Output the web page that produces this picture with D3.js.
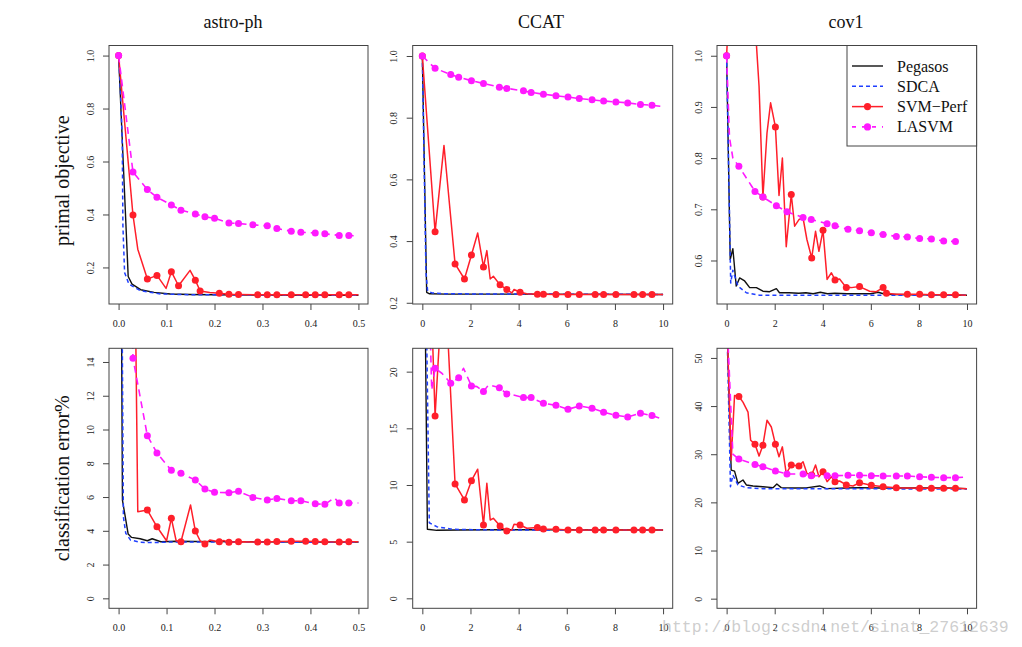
<!DOCTYPE html>
<html><head><meta charset="utf-8">
<script src="https://cdn.jsdelivr.net/npm/d3@7"></script>
<style>body{margin:0;background:#fff} svg{display:block}</style>
</head><body>
<script>
// ---------- labels ----------
const datasets = ["astro-ph", "CCAT", "cov1"];
const rowLabels = ["primal objective", "classification error%"];
const seriesNames = ["Pegasos", "SDCA", "SVM\u2212Perf", "LASVM"];
const watermark = "http://blog.csdn.net/sinat_27612639";

// ---------- ticks ----------
const xTicksAstro = [0, 0.1, 0.2, 0.3, 0.4, 0.5];
const xTicksLong = [0, 2, 4, 6, 8, 10];
const yTicksAstroObj = [0.2, 0.4, 0.6, 0.8, 1.0];
const yTicksCcatObj = [0.2, 0.4, 0.6, 0.8, 1.0];
const yTicksCovObj = [0.6, 0.7, 0.8, 0.9, 1.0];
const yTicksAstroErr = [0, 2, 4, 6, 8, 10, 12, 14];
const yTicksCcatErr = [0, 5, 10, 15, 20];
const yTicksCovErr = [0, 10, 20, 30, 40, 50];

// ---------- data: [x, y, marker(1/0)] ----------
// astro-ph, primal objective
const astroObjPegasos = [[0,1.0],[0.02,0.166],[0.028,0.137],[0.046,0.116],[0.074,0.106],[0.108,0.100],[0.15,0.098],[0.2,0.097],[0.3,0.096],[0.4,0.095],[0.5,0.095]];
const astroObjSdca = [[0,1.0],[0.004,0.86],[0.0076,0.683],[0.009,0.357],[0.0125,0.181],[0.0215,0.137],[0.046,0.112],[0.0875,0.100],[0.15,0.097],[0.3,0.096],[0.5,0.095]];
const astroObjPerf = [[0,1.0,1],[0.03,0.398,1],[0.04,0.269,0],[0.06,0.156,1],[0.08,0.170,1],[0.099,0.121,0],[0.11,0.184,1],[0.125,0.131,1],[0.149,0.189,0],[0.16,0.152,1],[0.17,0.111,1],[0.19,0.105,0],[0.21,0.103,1],[0.23,0.099,1],[0.25,0.098,1],[0.29,0.097,1],[0.31,0.097,1],[0.33,0.097,1],[0.36,0.097,1],[0.39,0.097,1],[0.41,0.097,1],[0.43,0.097,1],[0.46,0.097,1],[0.48,0.097,1],[0.5,0.097,0]];
const astroObjLasvm = [[0,1.0,1],[0.03,0.560,1],[0.06,0.494,1],[0.08,0.465,1],[0.11,0.436,1],[0.13,0.416,1],[0.16,0.402,1],[0.18,0.391,1],[0.20,0.386,1],[0.23,0.368,1],[0.25,0.366,1],[0.28,0.361,1],[0.31,0.357,1],[0.33,0.347,1],[0.36,0.337,1],[0.38,0.333,1],[0.41,0.330,1],[0.43,0.327,1],[0.46,0.321,1],[0.48,0.321,1],[0.5,0.318,0]];

// astro-ph, classification error
const astroErrPegasos = [[0,50],[0.008,5.82],[0.02,3.81],[0.027,3.61],[0.045,3.53],[0.06,3.41],[0.07,3.53],[0.088,3.35],[0.12,3.38],[0.2,3.36],[0.3,3.35],[0.4,3.34],[0.5,3.33]];
const astroErrSdca = [[0,50],[0.01,4.83],[0.015,3.85],[0.025,3.45],[0.046,3.32],[0.07,3.30],[0.1,3.33],[0.2,3.33],[0.3,3.33],[0.5,3.32]];
const astroErrPerf = [[0,50,1],[0.03,30,1],[0.04,5.13,0],[0.06,5.23,1],[0.08,4.24,1],[0.10,3.41,0],[0.11,4.74,1],[0.12,3.41,0],[0.13,3.35,1],[0.15,5.53,0],[0.16,3.99,1],[0.17,3.41,0],[0.18,3.22,1],[0.19,3.45,0],[0.21,3.35,1],[0.22,3.42,0],[0.23,3.32,1],[0.25,3.35,1],[0.29,3.33,1],[0.31,3.33,1],[0.33,3.36,1],[0.36,3.38,1],[0.39,3.38,1],[0.41,3.37,1],[0.43,3.35,1],[0.46,3.34,1],[0.48,3.35,1],[0.5,3.35,0]];
const astroErrLasvm = [[0,50,1],[0.03,14.22,1],[0.06,9.63,1],[0.08,8.61,1],[0.11,7.58,1],[0.13,7.41,1],[0.16,7.01,1],[0.18,6.48,1],[0.20,6.28,1],[0.23,6.26,1],[0.25,6.34,1],[0.28,5.98,1],[0.31,5.82,1],[0.33,5.92,1],[0.36,5.78,1],[0.38,5.78,1],[0.41,5.60,1],[0.43,5.57,1],[0.45,5.95,0],[0.46,5.65,1],[0.48,5.65,1],[0.5,5.65,0]];

// CCAT, primal objective
const ccatObjPegasos = [[0,1.0],[0.18,0.234],[0.3,0.229],[1,0.228],[3,0.228],[10,0.227]];
const ccatObjSdca = [[0,1.0],[0.15,0.30],[0.22,0.238],[0.4,0.232],[1,0.229],[10,0.227]];
const ccatObjPerf = [[0,1.0,1],[0.53,0.430,1],[0.90,0.710,0],[1.36,0.326,1],[1.75,0.277,1],[2.04,0.355,1],[2.30,0.426,0],[2.54,0.316,1],[2.68,0.369,0],[2.82,0.277,0],[2.95,0.286,0],[3.23,0.258,1],[3.51,0.243,1],[3.72,0.232,0],[3.81,0.243,0],[4.06,0.234,1],[4.34,0.229,0],[4.78,0.228,1],[5.03,0.228,1],[5.55,0.227,1],[6.05,0.227,1],[6.52,0.227,1],[7.18,0.227,1],[7.53,0.227,1],[8.04,0.227,1],[8.79,0.227,1],[9.15,0.227,1],[9.54,0.227,1],[10,0.227,0]];
const ccatObjLasvm = [[0,1.0,1],[0.53,0.960,1],[1.18,0.940,1],[1.51,0.931,1],[2.04,0.920,1],[2.54,0.911,1],[3.20,0.899,1],[3.51,0.895,1],[4.20,0.887,1],[4.52,0.882,1],[5.03,0.876,1],[5.55,0.871,1],[6.05,0.867,1],[6.52,0.862,1],[7.05,0.858,1],[7.53,0.854,1],[8.04,0.851,1],[8.53,0.848,1],[9.06,0.843,1],[9.54,0.840,1],[10,0.836,0]];

// CCAT, classification error
const ccatErrPegasos = [[0,50],[0.21,6.09],[0.6,6.0],[1.5,6.03],[3,6.05],[5,6.05],[10,6.03]];
const ccatErrSdca = [[0,50],[0.29,6.67],[0.6,6.32],[1.28,6.09],[3,6.03],[10,6.03]];
const ccatErrPerf = [[0,50,1],[0.53,16.09,1],[0.9,30,0],[1.36,10.09,1],[1.75,8.68,1],[2.04,10.38,1],[2.30,11.39,0],[2.54,6.47,1],[2.68,10.15,0],[2.82,6.91,0],[2.95,7.06,0],[3.23,6.38,1],[3.51,5.94,1],[3.72,6.03,0],[3.81,6.53,0],[4.06,6.47,1],[4.34,6.18,0],[4.78,6.24,1],[5.03,6.12,1],[5.55,6.09,1],[6.05,6.03,1],[6.52,6.03,1],[7.18,6.03,1],[7.53,6.03,1],[8.04,6.03,1],[8.79,6.03,1],[9.15,6.03,1],[9.54,6.03,1],[10,6.03,0]];
const ccatErrLasvm = [[0,50,1],[0.39,18.38,0],[0.53,20.3,1],[0.81,19.86,0],[1.18,18.97,1],[1.51,19.47,1],[1.71,20.30,0],[2.04,18.74,1],[2.27,18.68,0],[2.54,18.24,1],[2.75,18.83,0],[3.20,18.59,1],[3.51,18.03,1],[3.79,17.94,0],[4.20,17.71,1],[4.52,17.71,1],[5.03,17.21,1],[5.55,17.03,1],[6.05,16.68,1],[6.52,16.97,1],[7.05,16.77,1],[7.53,16.42,1],[8.04,16.15,1],[8.53,16.0,1],[9.06,16.33,1],[9.54,16.12,1],[10,15.80,0]];

// cov1, primal objective
const covObjPegasos = [[0,1.0],[0.15,0.602],[0.26,0.623],[0.40,0.550],[0.54,0.566],[0.75,0.560],[0.96,0.547],[1.24,0.547],[1.51,0.540],[1.79,0.539],[2.07,0.545],[2.2,0.537],[2.6,0.537],[3.0,0.536],[3.3,0.537],[3.6,0.535],[3.9,0.538],[4.2,0.535],[4.5,0.536],[5.0,0.535],[5.5,0.535],[6.0,0.535],[6.3,0.538],[6.6,0.534],[7.5,0.533],[8.5,0.533],[10,0.532]];
const covObjSdca = [[0,1.0],[0.17,0.556],[0.26,0.581],[0.47,0.550],[0.82,0.537],[1.37,0.532],[10,0.532]];
const covObjPerf = [[0,1.0,1],[0.3,1.3,0],[1.0,1.2,0],[1.35,0.940,0],[1.51,0.724,1],[1.68,0.849,0],[1.83,0.908,0],[2.03,0.861,1],[2.18,0.727,0],[2.32,0.800,0],[2.48,0.627,0],[2.69,0.729,1],[2.83,0.667,0],[3.01,0.680,0],[3.18,0.683,0],[3.34,0.641,0],[3.54,0.605,1],[3.70,0.657,0],[3.84,0.618,0],[4.01,0.659,1],[4.18,0.563,0],[4.36,0.576,0],[4.51,0.562,1],[4.70,0.564,0],[4.98,0.547,1],[5.19,0.547,0],[5.53,0.549,1],[5.95,0.540,0],[6.23,0.539,0],[6.51,0.547,1],[6.65,0.536,1],[7.06,0.534,0],[7.52,0.534,1],[8.03,0.534,1],[8.52,0.533,1],[9.03,0.533,1],[9.52,0.533,1],[9.97,0.532,0]];
const covObjLasvm = [[0,1.0,1],[0.12,0.84,0],[0.26,0.80,0],[0.51,0.784,1],[1.18,0.735,1],[1.51,0.724,1],[2.07,0.707,1],[2.51,0.695,1],[3.18,0.684,1],[3.52,0.680,1],[4.18,0.672,1],[4.51,0.668,1],[5.05,0.661,1],[5.53,0.658,1],[6.02,0.654,1],[6.51,0.651,1],[7.06,0.647,1],[7.52,0.646,1],[8.03,0.643,1],[8.52,0.642,1],[9.03,0.638,1],[9.52,0.637,1],[9.81,0.636,0]];

// cov1, classification error
const covErrPegasos = [[0,60],[0.19,26.71],[0.33,26.5],[0.47,23.96],[0.68,24.65],[0.82,23.62],[1.1,23.41],[1.51,23.26],[1.93,23.06],[2.09,23.82],[2.27,23.06],[2.76,22.99],[3.31,23.0],[3.87,23.41],[4.15,22.85],[4.98,23.0],[5.53,23.06],[6.37,23.0],[7.76,23.0],[9.14,23.0],[10,22.85]];
const covErrSdca = [[0,60],[0.16,23.26],[0.26,25.68],[0.47,23.62],[0.82,23.06],[1.51,22.85],[10,22.78]];
const covErrPerf = [[0,60,1],[0.19,28.78,0],[0.33,42.21,0],[0.51,42.0,1],[0.68,40.83,0],[0.89,38.76,0],[1.0,32.91,0],[1.18,32.09,1],[1.35,29.61,0],[1.51,31.88,1],[1.68,37.05,0],[1.86,35.66,0],[2.03,32.09,1],[2.18,29.46,0],[2.32,31.53,0],[2.48,26.03,0],[2.69,27.75,1],[3.01,27.54,1],[3.18,28.43,0],[3.34,26.03,0],[3.54,25.68,1],[3.70,27.75,0],[3.84,25.33,0],[4.01,26.36,1],[4.18,24.30,0],[4.36,25.33,0],[4.51,24.30,1],[4.70,24.44,0],[4.98,23.62,1],[5.26,23.41,0],[5.53,24.09,1],[6.02,23.55,1],[6.51,23.26,1],[7.06,23.06,1],[7.52,22.99,0],[8.03,22.93,1],[8.52,22.93,1],[9.03,22.93,1],[9.52,22.93,1],[10,22.85,0]];
const covErrLasvm = [[0,60,1],[0.26,30.0,0],[0.51,28.99,1],[1.18,27.89,1],[1.51,27.40,1],[2.03,26.51,1],[2.51,25.89,1],[3.18,25.89,1],[3.52,25.54,1],[4.18,25.54,1],[4.51,25.54,1],[5.05,25.62,1],[5.53,25.62,1],[6.02,25.54,1],[6.51,25.48,1],[7.06,25.48,1],[7.52,25.48,1],[8.03,25.33,1],[8.52,25.2,1],[9.03,25.13,1],[9.52,25.13,1],[10,25.27,0]];

// ---------- layout ----------
const W = 1022, H = 647;
const colX = [[109, 368], [412.7, 672.7], [717, 976.6]];
const rowY = [[45.5, 304], [348.3, 608.3]];
const titleX = [233, 541, 846];
const panels = [
  {r:0,c:0,xd:[-0.02,0.52],yd:[0.062,1.038],xt:xTicksAstro,yt:yTicksAstroObj,xf:d3.format(".1f"),yf:d3.format(".1f"),s:[astroObjPegasos,astroObjSdca,astroObjPerf,astroObjLasvm]},
  {r:0,c:1,xd:[-0.4,10.4],yd:[0.196,1.034],xt:xTicksLong,yt:yTicksCcatObj,xf:d3.format("d"),yf:d3.format(".1f"),s:[ccatObjPegasos,ccatObjSdca,ccatObjPerf,ccatObjLasvm]},
  {r:0,c:2,xd:[-0.4,10.4],yd:[0.515,1.02],xt:xTicksLong,yt:yTicksCovObj,xf:d3.format("d"),yf:d3.format(".1f"),s:[covObjPegasos,covObjSdca,covObjPerf,covObjLasvm]},
  {r:1,c:0,xd:[-0.02,0.52],yd:[-0.59,14.81],xt:xTicksAstro,yt:yTicksAstroErr,xf:d3.format(".1f"),yf:d3.format("d"),s:[astroErrPegasos,astroErrSdca,astroErrPerf,astroErrLasvm]},
  {r:1,c:1,xd:[-0.4,10.4],yd:[-0.88,22.06],xt:xTicksLong,yt:yTicksCcatErr,xf:d3.format("d"),yf:d3.format("d"),s:[ccatErrPegasos,ccatErrSdca,ccatErrPerf,ccatErrLasvm]},
  {r:1,c:2,xd:[-0.4,10.4],yd:[-2,52],xt:xTicksLong,yt:yTicksCovErr,xf:d3.format("d"),yf:d3.format("d"),s:[covErrPegasos,covErrSdca,covErrPerf,covErrLasvm]}
];
const styles = [
  {color:"#111111", dash:null, w:1.4, mark:false},
  {color:"#1f3fff", dash:"4,3", w:1.5, mark:false},
  {color:"#ff1f2a", dash:null, w:1.5, mark:true},
  {color:"#ff1aff", dash:"7,5", w:1.6, mark:true}
];
const SERIF = "'Liberation Serif','Times New Roman',serif";

const svg = d3.select("body").append("svg").attr("width", W).attr("height", H)
  .style("font-family", SERIF);
svg.append("rect").attr("width", W).attr("height", H).attr("fill", "#fff");

// titles
datasets.forEach((t, i) => {
  svg.append("text").attr("x", titleX[i]).attr("y", 22).attr("text-anchor", "middle")
    .attr("dominant-baseline", "central").attr("font-size", 18).attr("fill", "#111").text(t);
});
// row labels
rowLabels.forEach((t, i) => {
  const cy = (rowY[i][0] + rowY[i][1]) / 2 + (i === 0 ? 6 : 0);
  svg.append("text").attr("transform", `translate(62,${cy}) rotate(-90)`)
    .attr("text-anchor", "middle").attr("dominant-baseline", "central")
    .attr("font-size", 20).attr("fill", "#111").text(t);
});

panels.forEach((p, pi) => {
  const [x0, x1] = colX[p.c], [y0, y1] = rowY[p.r];
  const x = d3.scaleLinear().domain(p.xd).range([x0, x1]);
  const y = d3.scaleLinear().domain(p.yd).range([y1, y0]);
  const g = svg.append("g");
  const clipId = "clip" + pi;
  g.append("clipPath").attr("id", clipId).append("rect")
    .attr("x", x0).attr("y", y0).attr("width", x1 - x0).attr("height", y1 - y0);

  // x axis
  const xa = d3.axisBottom(x).tickValues(p.xt).tickFormat(p.xf).tickSize(6).tickPadding(10);
  const gx = g.append("g").attr("transform", `translate(0,${y1})`).call(xa);
  gx.select(".domain").remove();
  gx.selectAll("line").attr("stroke", "#444");
  gx.selectAll("text").attr("font-size", 10).attr("font-family", SERIF).attr("fill", "#222");
  // y axis
  const ya = d3.axisLeft(y).tickValues(p.yt).tickFormat(p.yf).tickSize(6).tickPadding(0);
  const gy = g.append("g").attr("transform", `translate(${x0},0)`).call(ya);
  gy.select(".domain").remove();
  gy.selectAll("line").attr("stroke", "#444");
  gy.selectAll("text").attr("font-size", 10).attr("font-family", SERIF).attr("fill", "#222")
    .attr("x", null).attr("dy", null).attr("text-anchor", "middle").attr("dominant-baseline", "central")
    .attr("transform", "translate(-19,0) rotate(-90)");

  const plot = g.append("g").attr("clip-path", `url(#${clipId})`);
  const line = d3.line().x(d => x(d[0])).y(d => y(d[1]));
  p.s.forEach((data, si) => {
    const st = styles[si];
    plot.append("path").datum(data).attr("d", line).attr("fill", "none")
      .attr("stroke", st.color).attr("stroke-width", st.w)
      .attr("stroke-dasharray", st.dash).attr("stroke-linejoin", "round");
    if (st.mark) {
      plot.selectAll(null).data(data.filter(d => d[2] === 1)).enter().append("circle")
        .attr("cx", d => x(d[0])).attr("cy", d => y(d[1])).attr("r", 3.5).attr("fill", st.color);
    }
  });
  // box
  g.append("rect").attr("x", x0).attr("y", y0).attr("width", x1 - x0).attr("height", y1 - y0)
    .attr("fill", "none").attr("stroke", "#444").attr("stroke-width", 1);
});

// legend (top-right panel)
const lg = svg.append("g");
lg.append("rect").attr("x", 847).attr("y", 45.5).attr("width", 976.6 - 847).attr("height", 146 - 45.5)
  .attr("fill", "#fff").attr("stroke", "#444").attr("stroke-width", 1);
seriesNames.forEach((n, i) => {
  const st = styles[i], cy = 66 + i * 20.3;
  lg.append("line").attr("x1", 852).attr("x2", 883).attr("y1", cy).attr("y2", cy)
    .attr("stroke", st.color).attr("stroke-width", st.w).attr("stroke-dasharray", i === 3 ? "4,6" : st.dash);
  if (st.mark) lg.append("circle").attr("cx", 867.5).attr("cy", cy).attr("r", 3.6).attr("fill", st.color);
  lg.append("text").attr("x", 897).attr("y", cy).attr("dominant-baseline", "central")
    .attr("font-size", 16).attr("fill", "#111").text(n);
});

// watermark (overlays the bottom-right tick labels, as in the reference)
svg.append("text").attr("x", 662).attr("y", 627).attr("dominant-baseline", "central")
  .attr("font-family", "'Liberation Mono','DejaVu Sans Mono',monospace").attr("font-size", 16.5)
  .attr("fill", "#b8b8b8").attr("fill-opacity", 0.7).text(watermark);
</script>
</body></html>
